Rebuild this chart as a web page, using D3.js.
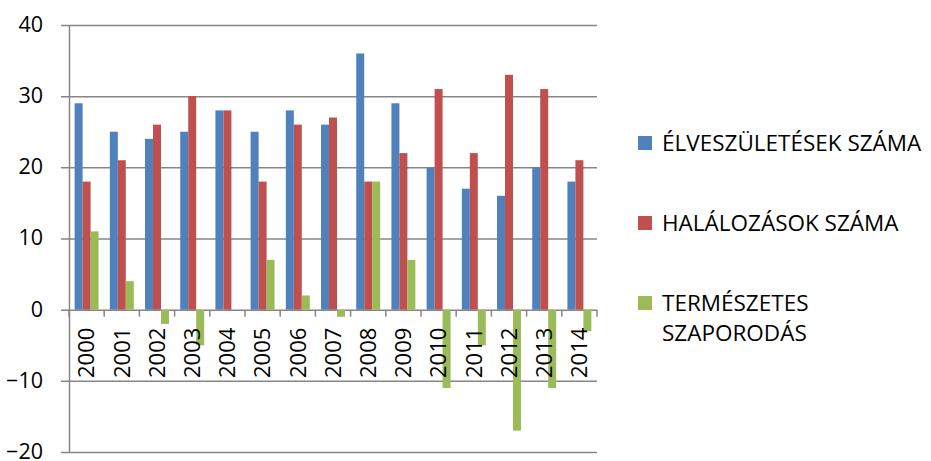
<!DOCTYPE html>
<html>
<head>
<meta charset="utf-8">
<script src="https://cdn.jsdelivr.net/npm/d3@7"></script>
<style>
  body { margin: 0; background: #fff; }
  text { font-family: "Open Sans", sans-serif; fill: #000; }
</style>
</head>
<body>
<div id="container"></div>
<script>
// values
const years = ["2000", "2001", "2002", "2003", "2004", "2005", "2006", "2007",
  "2008", "2009", "2010", "2011", "2012", "2013", "2014"]
const births = [29, 25, 24, 25, 28, 25, 28, 26, 36, 29, 20, 17, 16, 20, 18]
const deaths = [18, 21, 26, 30, 28, 18, 26, 27, 18, 22, 31, 22, 33, 31, 21]
const natural = [11, 4, -2, -5, 0, 7, 2, -1, 18, 7, -11, -5, -17, -11, -3]
const seriesNames = ["ÉLVESZÜLETÉSEK SZÁMA", "HALÁLOZÁSOK SZÁMA", "TERMÉSZETES SZAPORODÁS"]
const yTicks = [-20, -10, 0, 10, 20, 30, 40]

const colors = ["#4F81BD", "#C0504D", "#9BBB59"]
const gridColor = "#868686"

// constants
const width = 931,
  height = 461,
  margin = { top: 25, bottom: 9, left: 69, right: 334 }

const series = [births, deaths, natural]
const data = years.map((y, i) => ({ year: y, values: series.map((s, k) => ({ k, v: s[i] })) }))

const xScale = d3.scaleBand()
  .domain(years)
  .range([margin.left, width - margin.right])

const gap = xScale.bandwidth() * 0.32
const x1 = d3.scaleBand()
  .domain([0, 1, 2])
  .range([gap / 2, xScale.bandwidth() - gap / 2])

const yScale = d3.scaleLinear()
  .domain([-20, 40])
  .range([height - margin.bottom, margin.top])

const svg = d3.select("#container")
  .append("svg")
  .attr("width", width)
  .attr("height", height)

// gridlines + y axis
const yAxis = d3.axisLeft(yScale)
  .tickValues(yTicks)
  .tickSizeOuter(0)
  .tickSizeInner(8)
  .tickPadding(18)

const yAxisGroup = svg.append("g")
  .attr("transform", `translate(${margin.left}, 0)`)
  .call(yAxis)

yAxisGroup.select(".domain").attr("stroke", gridColor).attr("stroke-width", 1.5)
yAxisGroup.selectAll(".tick line")
  .attr("x1", -8)
  .attr("x2", width - margin.right - margin.left)
  .attr("stroke", gridColor)
  .attr("stroke-width", 1.5)
yAxisGroup.selectAll(".tick text")
  .attr("dy", "0.3em")
  .style("font-size", "21.5px")

// bars
const groups = svg.append("g")
  .selectAll("g")
  .data(data)
  .join("g")
  .attr("transform", d => `translate(${xScale(d.year)}, 0)`)

groups.selectAll("rect")
  .data(d => d.values)
  .join("rect")
  .attr("x", d => x1(d.k))
  .attr("width", x1.bandwidth())
  .attr("y", d => yScale(Math.max(0, d.v)))
  .attr("height", d => Math.abs(yScale(d.v) - yScale(0)))
  .attr("fill", d => colors[d.k])

// x axis at zero: ticks at category boundaries
const y0 = yScale(0)
const bounds = years.map(y => xScale(y)).concat([width - margin.right])
svg.append("g")
  .selectAll("line")
  .data(bounds)
  .join("line")
  .attr("x1", d => d)
  .attr("x2", d => d)
  .attr("y1", y0)
  .attr("y2", y0 + 7)
  .attr("stroke", gridColor)
  .attr("stroke-width", 1.5)

svg.append("g")
  .selectAll("text")
  .data(years)
  .join("text")
  .attr("transform", d => `translate(${xScale(d) + xScale.bandwidth() / 2}, ${y0 + 18}) rotate(-90)`)
  .attr("text-anchor", "end")
  .attr("dy", "0.35em")
  .style("font-size", "22px")
  .text(d => d)

// legend
const legend = svg.append("g")
  .attr("transform", "translate(638, 0)")

const rows = [[seriesNames[0]], [seriesNames[1]], ["TERMÉSZETES", "SZAPORODÁS"]]
const rowY = [143, 223, 303]

rows.forEach((lines, i) => {
  legend.append("rect")
    .attr("x", 0)
    .attr("y", rowY[i] - 7)
    .attr("width", 14)
    .attr("height", 14)
    .attr("fill", colors[i])
  lines.forEach((t, j) => {
    legend.append("text")
      .attr("x", 24)
      .attr("y", rowY[i] + j * 30)
      .attr("dy", "0.35em")
      .style("font-size", "22.5px")
      .text(t)
  })
})
</script>
</body>
</html>
